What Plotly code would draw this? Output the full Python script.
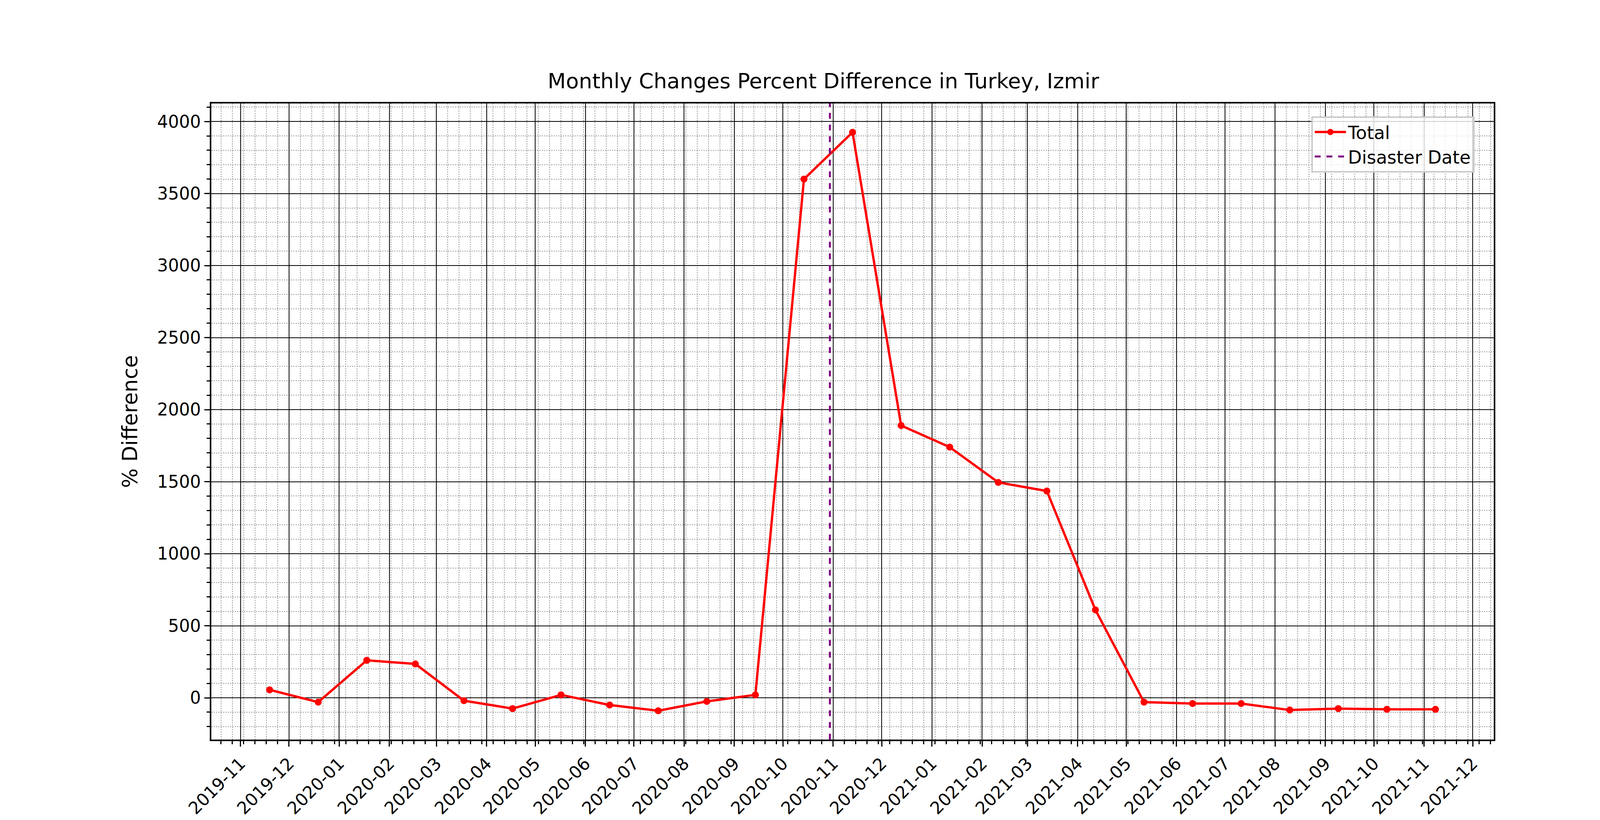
import plotly.graph_objects as go

dates = ["2019-11-19", "2019-12-19", "2020-01-18", "2020-02-17", "2020-03-18",
         "2020-04-17", "2020-05-17", "2020-06-16", "2020-07-16", "2020-08-15",
         "2020-09-14", "2020-10-14", "2020-11-13", "2020-12-13", "2021-01-12",
         "2021-02-11", "2021-03-13", "2021-04-12", "2021-05-12", "2021-06-11",
         "2021-07-11", "2021-08-10", "2021-09-09", "2021-10-09", "2021-11-08"]
pct_diff = [55, -30, 260, 235, -20, -75, 20, -50, -90, -25, 20, 3600, 3925,
            1890, 1740, 1495, 1435, 610, -30, -40, -40, -85, -75, -80, -80]
disaster_date = "2020-10-30"
y_range = [-290, 4125]
x_range = ["2019-10-14", "2021-12-14"]

fig = go.Figure()
fig.add_trace(go.Scatter(x=dates, y=pct_diff, mode="lines+markers", name="Total",
                         line=dict(color="red", width=6), marker=dict(size=18, color="red")))
fig.add_trace(go.Scatter(x=[disaster_date, disaster_date], y=y_range, mode="lines",
                         name="Disaster Date", line=dict(color="purple", width=5, dash="dash")))

fig.update_layout(
    width=4200, height=2100, plot_bgcolor="white", paper_bgcolor="white",
    font=dict(family="DejaVu Sans", size=44, color="black"),
    title=dict(text="Monthly Changes Percent Difference in Turkey, Izmir",
               x=0.5, xanchor="center", y=0.905, yanchor="middle", font=dict(size=54)),
    margin=dict(l=533, r=384, t=257, b=214),
    legend=dict(x=0.985, y=0.98, xanchor="right", yanchor="top", itemwidth=80,
                bgcolor="rgba(255,255,255,0.8)", bordercolor="#cccccc", borderwidth=4,
                font=dict(size=46), tracegroupgap=10),
)
fig.update_xaxes(
    range=x_range, dtick="M1", tickformat="%Y-%m", tickangle=-45,
    showgrid=True, gridcolor="black", gridwidth=2,
    showline=True, linecolor="black", linewidth=4, mirror=True,
    ticks="outside", ticklen=14, tickwidth=3, tickcolor="black",
    minor=dict(dtick=7 * 86400000, showgrid=True, gridcolor="#999999", griddash="dot",
               gridwidth=2, ticks="outside", ticklen=8, tickcolor="black"),
    zeroline=False,
)
fig.update_yaxes(
    range=y_range, dtick=500, title=dict(text="% Difference", standoff=35),
    showgrid=True, gridcolor="black", gridwidth=2,
    showline=True, linecolor="black", linewidth=4, mirror=True,
    ticks="outside", ticklen=14, tickwidth=3, tickcolor="black",
    minor=dict(dtick=100, showgrid=True, gridcolor="#999999", griddash="dot",
               gridwidth=2, ticks="outside", ticklen=8, tickcolor="black"),
    zeroline=False,
)
fig.write_html("out.html")
